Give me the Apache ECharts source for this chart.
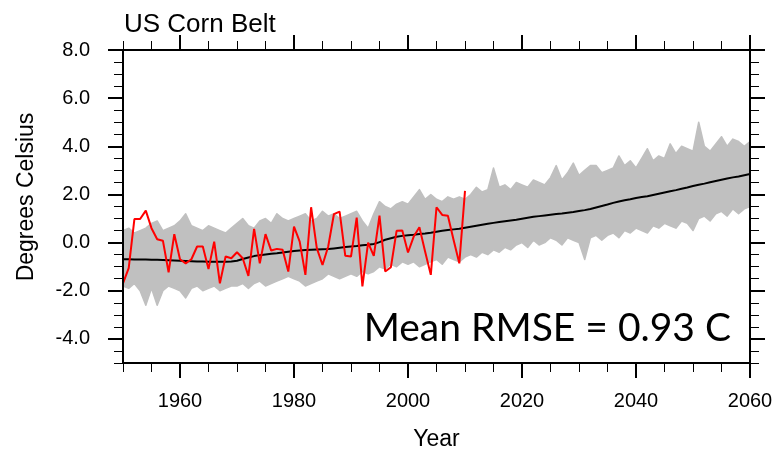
<!DOCTYPE html>
<html>
<head>
<meta charset="utf-8">
<script src="https://cdn.jsdelivr.net/npm/echarts@6/dist/echarts.min.js"></script>
<style>
html, body { margin: 0; padding: 0; background: #fff; }
#main { width: 778px; height: 452px; }
</style>
</head>
<body>
<div id="main"></div>
<script>
var startYear = 1950;

// observed anomaly, 1950-2010
var observed = [
	-1.69, -1.06, 0.98, 0.98, 1.33, 0.60, 0.14, 0.08, -1.23, 0.35,
	-0.69, -0.86, -0.69, -0.16, -0.16, -1.10, 0.04, -1.69, -0.58, -0.65,
	-0.40, -0.65, -1.38, 0.57, -0.86, 0.35, -0.33, -0.26, -0.30, -1.20,
	0.66, 0.04, -1.34, 1.47, -0.23, -0.93, -0.16, 1.18, 1.29, -0.55,
	-0.58, 1.04, -1.82, 0.00, -0.55, 1.12, -1.20, -1.02, 0.49, 0.50,
	-0.41, 0.25, 0.64, -0.37, -1.34, 1.47, 1.15, 1.12, 0.11, -0.86,
	2.15
];

// ensemble mean, 1950-2060
var ensMean = [
	-0.69, -0.69, -0.70, -0.70, -0.70, -0.71, -0.71, -0.72, -0.73, -0.74,
	-0.75, -0.76, -0.77, -0.78, -0.78, -0.79, -0.79, -0.79, -0.79, -0.78,
	-0.75, -0.68, -0.62, -0.56, -0.52, -0.49, -0.46, -0.44, -0.41, -0.38,
	-0.35, -0.33, -0.31, -0.30, -0.29, -0.28, -0.27, -0.24, -0.21, -0.18,
	-0.16, -0.14, -0.11, -0.09, -0.06, 0.02, 0.12, 0.18, 0.24, 0.28,
	0.31, 0.33, 0.36, 0.38, 0.41, 0.45, 0.49, 0.52, 0.55, 0.58,
	0.62, 0.66, 0.70, 0.74, 0.78, 0.82, 0.86, 0.89, 0.92, 0.95,
	0.99, 1.03, 1.07, 1.10, 1.13, 1.16, 1.19, 1.21, 1.24, 1.27,
	1.31, 1.35, 1.40, 1.46, 1.52, 1.58, 1.65, 1.71, 1.76, 1.80,
	1.85, 1.89, 1.93, 1.98, 2.03, 2.08, 2.13, 2.18, 2.24, 2.29,
	2.35, 2.40, 2.45, 2.51, 2.56, 2.61, 2.66, 2.71, 2.75, 2.80,
	2.85
];

// spread of the ensemble members (highest / lowest member each year)
var ensHigh = [
	0.5, 0.6, 0.4, 0.5, 0.6, 0.8, 0.9, 0.5, 0.6, 0.7,
	0.9, 1.2, 0.7, 0.6, 0.5, 0.7, 0.6, 0.5, 0.4, 0.6,
	0.8, 1.0, 0.7, 0.6, 0.9, 1.0, 0.8, 1.2, 1.0, 0.9,
	1.0, 1.1, 1.2, 0.9, 1.0, 1.3, 1.1, 1.2, 1.0, 1.1,
	1.2, 1.3, 0.9, 0.6, 1.2, 1.7, 1.5, 1.4, 1.6, 1.7,
	1.6, 1.9, 2.2, 1.8, 2.0, 1.8, 1.7, 1.9, 1.8, 1.9,
	1.8, 2.0, 2.3, 2.1, 2.2, 3.1, 2.3, 2.4, 2.2, 2.5,
	2.4, 2.3, 2.6, 2.5, 2.4, 2.7, 3.2, 2.6, 2.9, 3.3,
	2.8, 3.0, 3.2, 3.2, 2.9, 3.0, 3.1, 3.6, 3.2, 3.4,
	3.1, 3.5, 3.9, 3.4, 3.6, 3.5, 4.1, 3.7, 4.0, 3.9,
	3.8, 5.0, 4.0, 3.8, 4.1, 4.4, 4.0, 4.3, 4.2, 4.0,
	4.2
];
var ensLow = [
	-1.8, -1.9, -1.7, -2.0, -2.6, -1.9, -2.6, -2.0, -1.8, -1.9,
	-2.0, -2.3, -1.9, -1.8, -2.0, -1.9, -1.8, -2.0, -1.9, -1.8,
	-1.8, -1.7, -1.9, -1.7, -1.6, -1.8, -1.7, -1.6, -1.5, -1.4,
	-1.5, -1.6, -1.8, -1.7, -1.6, -1.5, -1.3, -1.4, -1.5, -1.4,
	-1.3, -1.4, -1.2, -1.3, -1.2, -1.0, -1.1, -0.9, -1.0, -0.8,
	-0.9, -0.8, -1.0, -0.9, -0.8, -0.7, -0.9, -0.6, -0.7, -0.8,
	-0.6, -0.5, -0.6, -0.4, -0.5, -0.3, -0.4, -0.2, -0.3, -0.1,
	0.0, -0.2, 0.1, -0.1, 0.0, 0.2, 0.1, -0.1, 0.2, 0.1,
	0.0, -0.7, 0.2, 0.3, 0.1, 0.3, 0.4, 0.2, 0.5, 0.4,
	0.6, 0.5, 0.4, 0.7, 0.6, 0.8, 0.7, 0.6, 0.9, 0.8,
	0.5, 1.0, 1.1, 0.9, 1.2, 1.3, 1.1, 1.4, 1.2, 1.4,
	1.5
];

var xMajor = [1960, 1980, 2000, 2020, 2040, 2060];
var xMinor = [];
for (var v = 1950; v <= 2060; v += 5) xMinor.push(v);
var yMajor = [-4, -2, 0, 2, 4, 6, 8];
var yMinor = [];
for (var v = -5; v <= 8; v += 0.5) yMinor.push(v);

function pairs(arr) {
	var out = [];
	for (var i = 0; i < arr.length; i++) out.push([startYear + i, arr[i]]);
	return out;
}

var font = 'Liberation Sans, Arial, sans-serif';
var grey = '#c0c0c0';

function xAx(pos, ticks, len, width, labels) {
	return {
		type: 'value', position: pos, min: 1950, max: 2060, z: 10,
		axisLine: {show: true, onZero: false, lineStyle: {color: '#000', width: 2}},
		axisTick: {show: true, inside: false, length: len, customValues: ticks, lineStyle: {color: '#000', width: width}},
		axisLabel: labels ? {show: true, customValues: xMajor, color: '#000', fontSize: 20, fontFamily: font, margin: 28,
			formatter: function (val) { return String(val); }} : {show: false},
		splitLine: {show: false},
		name: labels ? 'Year' : '',
		nameLocation: 'middle', nameGap: 65,
		nameTextStyle: {color: '#000', fontSize: 23, fontFamily: font}
	};
}
function yAx(pos, ticks, len, width, labels) {
	return {
		type: 'value', position: pos, min: -5, max: 8, z: 10,
		axisLine: {show: true, onZero: false, lineStyle: {color: '#000', width: 2}},
		axisTick: {show: true, inside: false, length: len, customValues: ticks, lineStyle: {color: '#000', width: width}},
		axisLabel: labels ? {show: true, customValues: yMajor, color: '#000', fontSize: 20, fontFamily: font, margin: 33,
			formatter: function (val) { return val.toFixed(1); }} : {show: false},
		splitLine: {show: false}
	};
}

var myChart = echarts.init(document.getElementById('main'), null, {renderer: 'canvas'});
var option = {
	animation: false,
	backgroundColor: '#fff',
	title: {
		text: 'US Corn Belt', left: 119, top: 7,
		textStyle: {color: '#000', fontSize: 26, fontWeight: 'normal', fontFamily: font}
	},
	grid: {left: 123, right: 28, top: 50, bottom: 89, containLabel: false, outerBoundsMode: 'none'},
	xAxis: [
		xAx('bottom', xMajor, 15, 2, true),
		xAx('bottom', xMinor, 9, 1, false),
		xAx('top', xMajor, 15, 2, false),
		xAx('top', xMinor, 9, 1, false)
	],
	yAxis: [
		yAx('left', yMajor, 15, 2, true),
		yAx('left', yMinor, 9, 1, false),
		yAx('right', yMajor, 15, 2, false),
		yAx('right', yMinor, 9, 1, false)
	],
	series: [
		{
			// ensemble members shown as the grey band they fill
			name: 'ensemble', type: 'custom', data: [[startYear, 0]],
			encode: {x: 0, y: 1}, z: 1, silent: true,
			renderItem: function (params, api) {
				var pts = [];
				for (var i = 0; i < ensHigh.length; i++) pts.push(api.coord([startYear + i, ensHigh[i]]));
				for (var i = ensLow.length - 1; i >= 0; i--) pts.push(api.coord([startYear + i, ensLow[i]]));
				return {
					type: 'polygon', shape: {points: pts},
					style: {fill: grey, stroke: grey, lineWidth: 1.5, lineJoin: 'round'}
				};
			}
		},
		{
			name: 'mean', type: 'line', data: pairs(ensMean), showSymbol: false, symbol: 'none',
			lineStyle: {color: '#000', width: 2}, z: 3
		},
		{
			name: 'observed', type: 'line', data: pairs(observed), showSymbol: false, symbol: 'none',
			lineStyle: {color: '#ff0000', width: 2}, z: 4
		}
	],
	graphic: [
		{
			type: 'text', x: 27, y: 197, rotation: Math.PI / 2, z: 10,
			style: {text: 'Degrees Celsius', fill: '#000', font: '23px "Liberation Sans", Arial, sans-serif',
				textAlign: 'center', textVerticalAlign: 'middle'}
		},
		{
			type: 'text', right: 47, top: 309, z: 10,
			style: {text: 'Mean RMSE = 0.93 C', fill: '#000', font: '39px Lato, sans-serif'}
		}
	]
};
myChart.setOption(option);
</script>
</body>
</html>
